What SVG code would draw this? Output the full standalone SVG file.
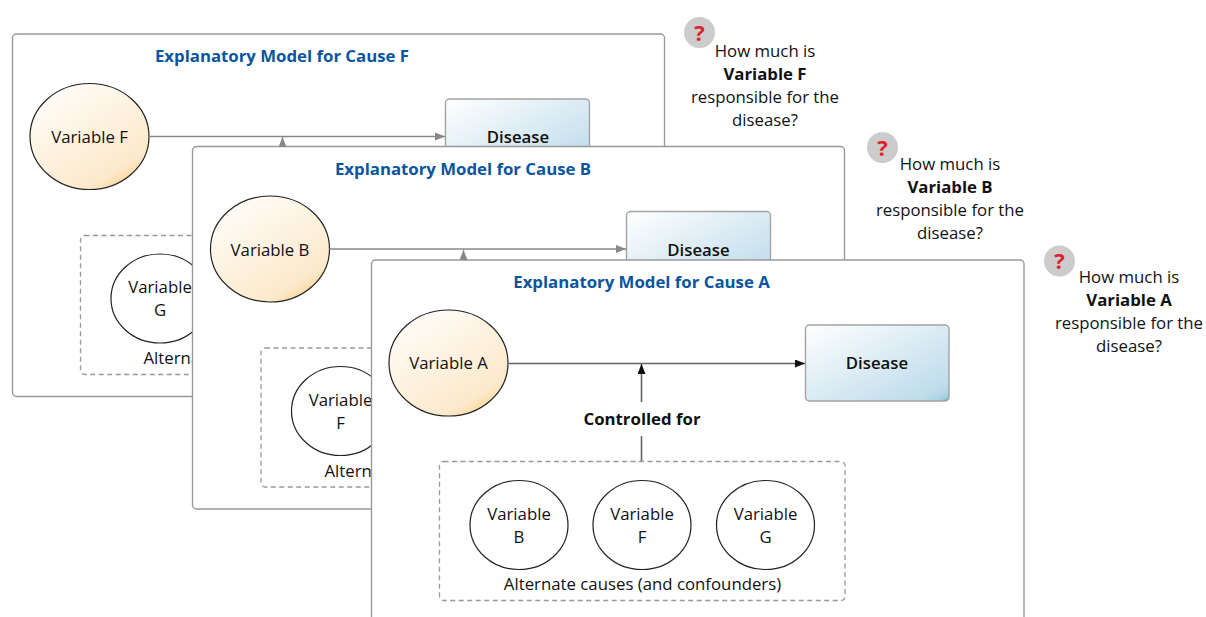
<svg xmlns="http://www.w3.org/2000/svg" width="1206" height="617" viewBox="0 0 1206 617">
<style>
text{font-family:"Open Sans","Noto Sans","DejaVu Sans",sans-serif;font-size:16.8px;fill:#111;text-anchor:middle}
.b{font-weight:700}
.s{font-weight:600}
.l{text-anchor:start}
.title{font-weight:700;fill:#0b559f}
.q{font-weight:700;font-size:22px;fill:#e01f2d}
.frame{fill:#fff;stroke:#999;stroke-width:1.4}
.dash{fill:#fff;stroke:#999;stroke-width:1.3;stroke-dasharray:5 3.5}
.dis{fill:url(#blue);stroke:#a3a3a3;stroke-width:1.4}
.var{fill:url(#orange);stroke:#222;stroke-width:1.2}
.alt{fill:#fff;stroke:#222;stroke-width:1.2}
.qc{fill:#ccc}
.c1{fill:none;stroke:#888;stroke-width:1.3}
.c2{fill:none;stroke:#666;stroke-width:1.6}
</style>
<defs>
<linearGradient id="blue" x1="0" y1="0" x2="1" y2="1">
<stop offset="0" stop-color="#fff"/><stop offset="0.88" stop-color="#bfdceb"/><stop offset="0.96" stop-color="#a9d0e5"/><stop offset="1" stop-color="#5aa5ce"/>
</linearGradient>
<linearGradient id="orange" x1="0.15" y1="0.05" x2="0.8" y2="0.98">
<stop offset="0" stop-color="#fffdf9"/><stop offset="0.85" stop-color="#fce9cb"/><stop offset="1" stop-color="#fad38f"/>
</linearGradient>
<marker id="g" markerUnits="userSpaceOnUse" markerWidth="10" markerHeight="8" refX="10" refY="4" orient="auto"><path d="M0 0L10 4L0 8z" fill="#888"/></marker>
<marker id="k" markerUnits="userSpaceOnUse" markerWidth="10" markerHeight="8" refX="10" refY="4" orient="auto"><path d="M0 0L10 4L0 8z" fill="#111"/></marker>
</defs>
<rect width="1206" height="617" fill="#fff"/>

<g id="model-f">
<rect class="frame" x="12.5" y="34" width="652" height="362.500" rx="4"/>
<text class="title" x="282" y="62">Explanatory Model for Cause F</text>
<g id="var-f"><ellipse class="var" cx="89.500" cy="136.500" rx="59.500" ry="53"/><text x="89.500" y="143">Variable F</text></g>
<g id="disease-f"><rect class="dis" x="445.500" y="99" width="144" height="76" rx="4"/><text class="s" x="518" y="143">Disease</text></g>
<g id="alt-f"><rect class="dash" x="80.500" y="235.500" width="405" height="139" rx="4"/>
<g id="var-g-f"><ellipse class="alt" cx="160" cy="298.500" rx="49" ry="44.500"/><text x="160" y="293">Variable</text><text x="160" y="316">G</text></g>
<text class="l" x="143.500" y="364">Alterna</text></g>
</g>

<g id="q-f"><circle class="qc" cx="699.500" cy="32.500" r="15.500"/><text class="q" x="699.500" y="40.500">?</text>
<text x="765" y="56.500">How much is</text><text class="b" x="765" y="79.500">Variable F</text><text x="765" y="102.500">responsible for the</text><text x="765" y="125.500">disease?</text></g>

<g id="model-b">
<rect class="frame" x="192.500" y="146.500" width="652" height="362.500" rx="4"/>
<text class="title" x="463" y="175">Explanatory Model for Cause B</text>
<g id="var-b"><ellipse class="var" cx="270" cy="249" rx="59.500" ry="53"/><text x="270" y="255.500">Variable B</text></g>
<g id="disease-b"><rect class="dis" x="626.500" y="211.500" width="144" height="76" rx="4"/><text class="s" x="698.500" y="255.500">Disease</text></g>
<g id="alt-b"><rect class="dash" x="261" y="348" width="405" height="139" rx="4"/>
<g id="var-f-b"><ellipse class="alt" cx="340.500" cy="411" rx="49" ry="44.500"/><text x="340.500" y="405.500">Variable</text><text x="340.500" y="428.500">F</text></g>
<text class="l" x="324.500" y="476.500">Alterna</text></g>
</g>

<g id="q-b"><circle class="qc" cx="882.500" cy="147.500" r="15.500"/><text class="q" x="882.500" y="155.500">?</text>
<text x="950" y="169.500">How much is</text><text class="b" x="950" y="192.500">Variable B</text><text x="950" y="215.500">responsible for the</text><text x="950" y="238.500">disease?</text></g>

<g id="model-a">
<rect class="frame" x="371.500" y="260" width="652.500" height="380" rx="4"/>
<text class="title" x="641.500" y="288">Explanatory Model for Cause A</text>
<g id="var-a"><ellipse class="var" cx="448.500" cy="363" rx="59.500" ry="53"/><text x="448.500" y="369">Variable A</text></g>
<g id="disease-a"><rect class="dis" x="805.500" y="325" width="143.500" height="76" rx="4"/><text class="s" x="877" y="369">Disease</text></g>
<g id="alt-a"><rect class="dash" x="439.500" y="461.500" width="405.500" height="139" rx="4"/>
<g id="var-b-a"><ellipse class="alt" cx="519" cy="525" rx="49" ry="44.500"/><text x="519" y="519.500">Variable</text><text x="519" y="542.500">B</text></g>
<g id="var-f-a"><ellipse class="alt" cx="642" cy="525" rx="49" ry="44.500"/><text x="642" y="519.500">Variable</text><text x="642" y="542.500">F</text></g>
<g id="var-g-a"><ellipse class="alt" cx="765.500" cy="525" rx="49" ry="44.500"/><text x="765.500" y="519.500">Variable</text><text x="765.500" y="542.500">G</text></g>
<text x="642.500" y="589.500">Alternate causes (and confounders)</text></g>
<text class="b" x="642" y="425">Controlled for</text>
</g>

<g id="q-a"><circle class="qc" cx="1059.500" cy="261" r="15.500"/><text class="q" x="1059.500" y="269">?</text>
<text x="1129" y="283">How much is</text><text class="b" x="1129" y="306">Variable A</text><text x="1129" y="329">responsible for the</text><text x="1129" y="352">disease?</text></g>

<g id="connectors">
<path class="c1" d="M149 136.500H445" marker-end="url(#g)"/>
<path class="c1" d="M282.500 146V137" marker-end="url(#g)"/>
<path class="c1" d="M329.500 249H626" marker-end="url(#g)"/>
<path class="c1" d="M463.500 259.500V250" marker-end="url(#g)"/>
<path class="c2" d="M508 363.500H805" marker-end="url(#k)"/>
<path class="c2" d="M641.500 461V436M641.500 402V364" marker-end="url(#k)"/>
</g>
</svg>
